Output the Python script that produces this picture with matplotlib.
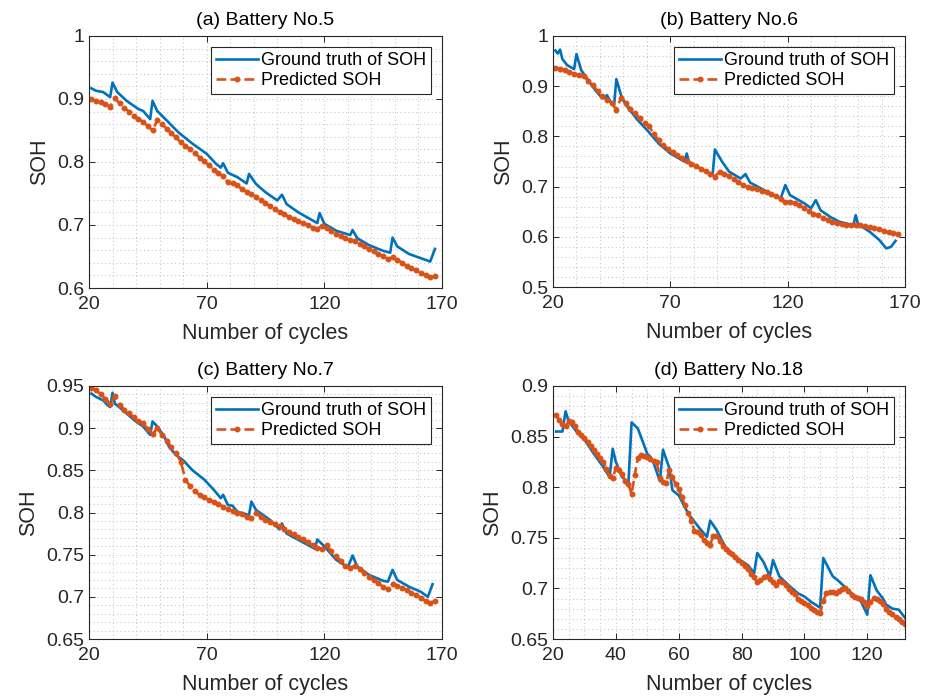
import numpy as np
import matplotlib.pyplot as plt

plt.rcParams['font.family'] = ['Liberation Sans', 'DejaVu Sans']

blue = '#0072BD'
orange = '#D95319'
axcol = '#262626'

# ---------------- Battery No.5 ----------------
b5_true_cyc = [21, 23, 26, 29, 30, 32, 36, 41, 43, 46, 47, 49, 53, 58, 64, 70, 74, 76, 77, 79,
               83, 87, 88, 91, 95, 100, 102, 104, 109, 117, 118, 120, 125, 131, 132, 134, 139,
               145, 148, 149, 151, 156, 165, 167]
b5_true = [0.917, 0.913, 0.911, 0.903, 0.926, 0.911, 0.897, 0.884, 0.881, 0.868, 0.897, 0.881,
           0.866, 0.847, 0.829, 0.813, 0.797, 0.791, 0.798, 0.783, 0.776, 0.766, 0.781, 0.765,
           0.752, 0.739, 0.748, 0.733, 0.720, 0.703, 0.719, 0.702, 0.691, 0.684, 0.692, 0.679,
           0.668, 0.659, 0.656, 0.680, 0.666, 0.654, 0.642, 0.662]
b5_pred_cyc = np.arange(21, 168, 2)
b5_pred = [0.900, 0.897, 0.895, 0.892, 0.888, 0.901, 0.893, 0.886, 0.880, 0.873, 0.868, 0.864,
           0.857, 0.850, 0.866, 0.860, 0.853, 0.846, 0.839, 0.831, 0.826, 0.820, 0.815, 0.807,
           0.801, 0.795, 0.788, 0.783, 0.777, 0.768, 0.766, 0.763, 0.757, 0.753, 0.749, 0.745,
           0.740, 0.735, 0.730, 0.725, 0.721, 0.717, 0.713, 0.710, 0.706, 0.703, 0.700, 0.696,
           0.694, 0.699, 0.695, 0.690, 0.686, 0.682, 0.679, 0.676, 0.674, 0.670, 0.666, 0.662,
           0.658, 0.654, 0.650, 0.646, 0.649, 0.645, 0.640, 0.635, 0.631, 0.628, 0.624, 0.620,
           0.617, 0.619]

# ---------------- Battery No.6 ----------------
b6_true_cyc = [21, 22, 23, 24, 26, 29, 30, 32, 35, 38, 41, 42, 43, 45, 46, 47, 49, 51, 56, 60,
               65, 70, 76, 77, 78, 84, 88, 89, 92, 95, 100, 102, 104, 110, 115, 117, 119, 121,
               127, 130, 132, 134, 138, 142, 148, 149, 150, 155, 159, 162, 164, 166]
b6_true = [0.971, 0.965, 0.973, 0.954, 0.942, 0.934, 0.964, 0.932, 0.912, 0.892, 0.876, 0.877,
           0.882, 0.865, 0.861, 0.914, 0.882, 0.863, 0.833, 0.813, 0.786, 0.766, 0.750, 0.766,
           0.748, 0.733, 0.723, 0.774, 0.750, 0.730, 0.716, 0.725, 0.708, 0.693, 0.680, 0.676,
           0.703, 0.683, 0.667, 0.657, 0.673, 0.653, 0.640, 0.630, 0.623, 0.643, 0.625, 0.610,
           0.594, 0.577, 0.580, 0.592]
b6_pred_cyc = np.arange(21, 168, 2)
b6_pred = [0.936, 0.935, 0.933, 0.929, 0.924, 0.922, 0.920, 0.911, 0.902, 0.890, 0.880, 0.872,
           0.866, 0.853, 0.877, 0.866, 0.855, 0.846, 0.836, 0.827, 0.820, 0.804, 0.793, 0.783,
           0.775, 0.768, 0.762, 0.756, 0.751, 0.746, 0.741, 0.736, 0.731, 0.726, 0.720, 0.730,
           0.726, 0.721, 0.715, 0.709, 0.703, 0.700, 0.697, 0.695, 0.692, 0.689, 0.686, 0.681,
           0.675, 0.670, 0.670, 0.667, 0.663, 0.657, 0.651, 0.646, 0.643, 0.638, 0.634, 0.630,
           0.627, 0.625, 0.624, 0.624, 0.624, 0.624, 0.621, 0.619, 0.617, 0.615, 0.612, 0.609,
           0.607, 0.605]

# ---------------- Battery No.7 ----------------
b7_true_cyc = [21, 23, 26, 28, 29, 30, 31, 35, 39, 43, 46, 47, 49, 52, 54, 57, 60, 64, 69, 73,
               76, 77, 79, 81, 83, 88, 89, 91, 97, 101, 102, 104, 110, 116, 117, 120, 125, 130,
               132, 134, 139, 145, 147, 149, 151, 156, 161, 164, 166]
b7_true = [0.941, 0.937, 0.933, 0.927, 0.925, 0.942, 0.929, 0.920, 0.910, 0.902, 0.892, 0.908,
           0.902, 0.890, 0.878, 0.868, 0.862, 0.850, 0.839, 0.827, 0.817, 0.821, 0.809, 0.808,
           0.801, 0.797, 0.813, 0.803, 0.791, 0.780, 0.787, 0.775, 0.766, 0.757, 0.768, 0.760,
           0.744, 0.735, 0.749, 0.736, 0.726, 0.719, 0.718, 0.732, 0.720, 0.712, 0.706, 0.700,
           0.715]
b7_pred_cyc = np.arange(21, 168, 2)
b7_pred = [0.948, 0.945, 0.940, 0.935, 0.929, 0.938, 0.928, 0.922, 0.918, 0.913, 0.909, 0.906,
           0.899, 0.893, 0.900, 0.892, 0.885, 0.878, 0.871, 0.860, 0.839, 0.831, 0.825, 0.821,
           0.818, 0.815, 0.813, 0.810, 0.807, 0.804, 0.802, 0.800, 0.798, 0.795, 0.793, 0.799,
           0.795, 0.791, 0.789, 0.786, 0.784, 0.781, 0.777, 0.774, 0.771, 0.768, 0.765, 0.761,
           0.758, 0.757, 0.761, 0.754, 0.748, 0.743, 0.736, 0.734, 0.737, 0.733, 0.728, 0.724,
           0.720, 0.716, 0.712, 0.709, 0.715, 0.713, 0.710, 0.708, 0.705, 0.702, 0.699, 0.695,
           0.693, 0.695]

# ---------------- Battery No.18 ----------------
b18_true_cyc = [21, 23, 24, 25, 28, 30, 33, 36, 38, 39, 40, 42, 44, 45, 47, 50, 51, 52, 54, 55,
                57, 58, 60, 63, 65, 67, 69, 70, 72, 75, 78, 82, 84, 85, 87, 89, 90, 92, 95, 98,
                100, 102, 105, 106, 109, 111, 115, 118, 120, 121, 123, 125, 126, 128, 130, 132]
b18_true = [0.855, 0.855, 0.875, 0.865, 0.853, 0.847, 0.833, 0.820, 0.810, 0.838, 0.825, 0.810,
            0.804, 0.864, 0.858, 0.833, 0.830, 0.824, 0.806, 0.837, 0.819, 0.797, 0.792, 0.774,
            0.766, 0.758, 0.751, 0.767, 0.758, 0.740, 0.731, 0.723, 0.715, 0.735, 0.726, 0.712,
            0.728, 0.712, 0.703, 0.695, 0.692, 0.687, 0.681, 0.730, 0.712, 0.707, 0.695, 0.687,
            0.674, 0.713, 0.698, 0.690, 0.684, 0.680, 0.679, 0.671]
b18_pred_cyc = np.arange(21, 133)
b18_pred = [0.871, 0.866, 0.862, 0.860, 0.865, 0.864, 0.860, 0.855, 0.852, 0.849, 0.845, 0.841,
            0.837, 0.833, 0.829, 0.825, 0.818, 0.811, 0.809, 0.819, 0.817, 0.813, 0.806, 0.803,
            0.793, 0.812, 0.829, 0.832, 0.831, 0.830, 0.828, 0.826, 0.825, 0.809, 0.805, 0.804,
            0.817, 0.810, 0.803, 0.798, 0.790, 0.782, 0.775, 0.767, 0.757, 0.756, 0.753, 0.748,
            0.745, 0.743, 0.752, 0.752, 0.747, 0.742, 0.739, 0.736, 0.734, 0.731, 0.728, 0.725,
            0.722, 0.719, 0.714, 0.711, 0.706, 0.708, 0.711, 0.712, 0.709, 0.706, 0.703, 0.707,
            0.706, 0.703, 0.699, 0.696, 0.694, 0.690, 0.688, 0.686, 0.684, 0.681, 0.679, 0.677,
            0.676, 0.688, 0.695, 0.696, 0.696, 0.695, 0.697, 0.699, 0.700, 0.697, 0.693, 0.692,
            0.691, 0.690, 0.687, 0.683, 0.687, 0.691, 0.690, 0.688, 0.685, 0.680, 0.677, 0.675,
            0.672, 0.670, 0.667, 0.665]

panels = [
    ('(a) Battery No.5', b5_true_cyc, b5_true, b5_pred_cyc, b5_pred,
     [0.0961, 0.5868, 0.3812, 0.3616], (20, 170), np.arange(20, 171, 50), np.arange(20, 171, 10),
     (0.6, 1.0), [0.6, 0.7, 0.8, 0.9, 1.0], np.arange(0.6, 1.001, 0.02)),
    ('(b) Battery No.6', b6_true_cyc, b6_true, b6_pred_cyc, b6_pred,
     [0.5972, 0.5882, 0.3801, 0.3602], (20, 170), np.arange(20, 171, 50), np.arange(20, 171, 10),
     (0.5, 1.0), [0.5, 0.6, 0.7, 0.8, 0.9, 1.0], np.arange(0.5, 1.001, 0.02)),
    ('(c) Battery No.7', b7_true_cyc, b7_true, b7_pred_cyc, b7_pred,
     [0.0961, 0.0832, 0.3812, 0.3630], (20, 170), np.arange(20, 171, 50), np.arange(20, 171, 10),
     (0.65, 0.95), [0.65, 0.7, 0.75, 0.8, 0.85, 0.9, 0.95], np.arange(0.65, 0.951, 0.01)),
    ('(d) Battery No.18', b18_true_cyc, b18_true, b18_pred_cyc, b18_pred,
     [0.5972, 0.0832, 0.3801, 0.3630], (20, 132), np.arange(20, 131, 20), np.arange(20, 133, 5),
     (0.65, 0.9), [0.65, 0.7, 0.75, 0.8, 0.85, 0.9], np.arange(0.65, 0.901, 0.01)),
]

fig = plt.figure(figsize=(9.26, 6.97), dpi=100)

for title, tc, tv, pc, pv, pos, xl, xt, xm, yl, yt, ym in panels:
    ax = fig.add_axes(pos)
    ax.plot(tc, tv, color=blue, lw=1.9, label='Ground truth of SOH')
    ax.plot(pc, pv, color=orange, lw=1.9, ls='--', marker='.', ms=6.5,
            label='Predicted SOH')
    ax.set_xlim(xl)
    ax.set_ylim(yl)
    ax.set_xticks(xt)
    ax.set_xticks(xm, minor=True)
    ax.set_yticks(yt)
    ax.set_yticks(ym, minor=True)
    ax.set_yticklabels([f'{v:g}' for v in yt])
    ax.grid(which='both', ls=(0, (1, 2.5)), color='#c8c8c8', lw=0.8)
    ax.set_axisbelow(True)
    ax.tick_params(which='major', direction='in', top=True, right=True, length=4,
                   width=0.7, colors=axcol, labelsize=14)
    ax.tick_params(axis='x', which='major', pad=6)
    ax.tick_params(which='minor', length=0, top=True, right=True)
    for s in ax.spines.values():
        s.set_color(axcol)
        s.set_linewidth(0.8)
    ax.set_title(title, fontsize=14, color='black', pad=8)
    ax.set_xlabel('Number of cycles', fontsize=15.5, color=axcol, labelpad=7)
    ax.set_ylabel('SOH', fontsize=15.5, color=axcol, labelpad=5)
    leg = ax.legend(loc='upper right', fontsize=13, fancybox=False, framealpha=1,
                    edgecolor=axcol, handlelength=2.3, handletextpad=0.15,
                    borderpad=0.3, labelspacing=0.15, borderaxespad=0.6)
    leg.get_frame().set_linewidth(0.8)

fig.savefig('out.png', dpi=100)
